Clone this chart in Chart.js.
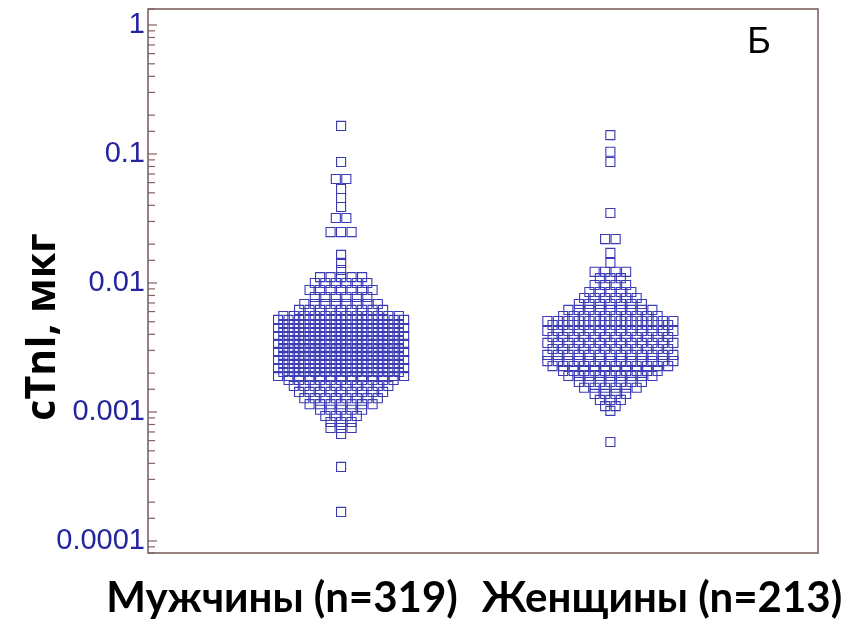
<!DOCTYPE html>
<html>
<head>
<meta charset="utf-8">
<script src="https://cdn.jsdelivr.net/npm/chart.js@4.4.1/dist/chart.umd.min.js"></script>
<style>
    html, body { margin: 0; padding: 0; background: #fff; }
    #wrap { width: 849px; height: 623px; }
</style>
</head>
<body>
<div id="wrap"><canvas id="dotChart" width="849" height="623"></canvas></div>
<script>
// Dữ liệu (mỗi mức = một hàng điểm, kèm số điểm trong hàng)
const groupLabels = ["Мужчины (n=319)", "Женщины (n=213)"];
const yTitle = "cTnI, мкг";
const panelLetter = "Б";
const yTickLabels = [1, 0.1, 0.01, 0.001, 0.0001];

const menLevels = [0.165, 0.0867, 0.064, 0.0535, 0.0456, 0.0388, 0.0319, 0.0248,
    0.0165, 0.0143, 0.0126,
    0.0111, 0.0100, 0.00883, 0.00779, 0.00687, 0.00618, 0.00555,
    0.00517, 0.00481, 0.00448, 0.00417, 0.00388, 0.00361, 0.00337, 0.00313,
    0.00292, 0.00272, 0.00253, 0.00236, 0.00219, 0.00204, 0.00190,
    0.00177, 0.00159, 0.00143, 0.00128, 0.00115, 0.00104, 0.000931, 0.000836,
    0.000752, 0.000675, 0.000375, 0.000168];
const menCounts = [1, 1, 2, 1, 1, 1, 2, 3,
    1, 1, 1,
    5, 6, 7, 6, 8, 9, 12,
    13, 12, 13, 12, 13, 12, 13, 12,
    13, 12, 13, 12, 13, 12, 13,
    11, 10, 9, 8, 7, 5, 4, 3,
    3, 1, 1, 1];

const womenLevels = [0.140, 0.104, 0.0867, 0.0349, 0.0219, 0.0171, 0.0143,
    0.0122, 0.0109, 0.00965, 0.00851, 0.00765, 0.00687, 0.00618, 0.00555, 0.00507,
    0.00472, 0.00425, 0.00381, 0.00343, 0.00308, 0.00277, 0.00248,
    0.00227, 0.00208, 0.00190, 0.00171, 0.00154, 0.00138, 0.00124, 0.00111,
    0.00102, 0.000585];
const womenCounts = [1, 1, 1, 1, 2, 1, 1,
    4, 3, 4, 5, 6, 7, 9, 10, 13,
    12, 13, 12, 13, 12, 13, 13,
    12, 10, 9, 7, 6, 4, 3, 2,
    1, 1];

// Bố cục
const STEP = 0.039;          // khoảng cách ngang giữa các điểm trong một hàng
const FRAME_COLOR = "#7f6262";
const DOT_COLOR = "#3b3bb5";

// Xếp các điểm trong mỗi hàng đối xứng quanh tâm nhóm
function buildSwarm(levels, counts, center) {
    const pts = [];
    levels.forEach((v, i) => {
        const n = counts[i];
        for (let j = 0; j < n; j++) {
            pts.push({ x: center + (j - (n - 1) / 2) * STEP, y: v });
        }
    });
    return pts;
}

// Khung, vạch chia và chữ
const decorPlugin = {
    id: "decor",
    afterDraw(chart) {
        const ctx = chart.ctx;
        const a = chart.chartArea;
        const ys = chart.scales.y;
        ctx.save();

        // vạch chia bên trong khung
        ctx.strokeStyle = FRAME_COLOR;
        ctx.lineWidth = 1.2;
        ys.ticks.forEach(t => {
            const p = ys.getPixelForValue(t.value);
            if (p < a.top || p > a.bottom) return;
            const major = Math.abs(Math.log10(t.value) - Math.round(Math.log10(t.value))) < 1e-6;
            ctx.beginPath();
            ctx.moveTo(a.left, p);
            ctx.lineTo(a.left + (major ? 9 : 7), p);
            ctx.stroke();
        });

        // khung
        ctx.lineWidth = 1.6;
        ctx.strokeRect(a.left, a.top, a.right - a.left, a.bottom - a.top);

        // tên trục y
        ctx.fillStyle = "#000";
        ctx.font = "bold 41px 'Open Sans'";
        ctx.textAlign = "center";
        ctx.textBaseline = "middle";
        ctx.translate(43, 327);
        ctx.rotate(-Math.PI / 2);
        ctx.fillText(yTitle, 0, 0);
        ctx.setTransform(1, 0, 0, 1, 0, 0);

        // nhãn nhóm
        ctx.font = "bold 42px Lato";
        ctx.fillText(groupLabels[0], 282, 598);
        ctx.fillText(groupLabels[1], 662, 598);

        // ký hiệu bảng
        ctx.font = "36px 'Liberation Sans'";
        ctx.fillText(panelLetter, 759, 43);
        ctx.restore();
    }
};

const dotStyle = {
    pointStyle: "rect",
    pointRadius: 6.4,
    pointHoverRadius: 6.4,
    borderColor: DOT_COLOR,
    backgroundColor: "rgba(255,255,255,0)",
    borderWidth: 1.1
};

new Chart(document.getElementById("dotChart"), {
    type: "scatter",
    data: {
        datasets: [
            Object.assign({ label: groupLabels[0], data: buildSwarm(menLevels, menCounts, 1) }, dotStyle),
            Object.assign({ label: groupLabels[1], data: buildSwarm(womenLevels, womenCounts, 2) }, dotStyle)
        ]
    },
    options: {
        responsive: false,
        animation: false,
        layout: { padding: { top: 9, right: 31, bottom: 70, left: 0 } },
        plugins: {
            legend: { display: false },
            tooltip: { enabled: false }
        },
        scales: {
            x: {
                type: "linear",
                min: 0.283,
                max: 2.771,
                display: false
            },
            y: {
                type: "logarithmic",
                min: 0.0000807,
                max: 1.33,
                afterFit: s => {
                    s.width = 148;
                    s.paddingTop = 0;
                    s.paddingBottom = 0;
                },
                grid: { display: false, drawTicks: false },
                border: { display: false },
                ticks: {
                    autoSkip: false,
                    padding: 3,
                    color: "#2424a0",
                    font: { family: "'Liberation Sans'", size: 29 },
                    callback: v => {
                        const hit = yTickLabels.find(t => Math.abs(t - v) / t < 1e-6);
                        return hit !== undefined ? String(hit) : "";
                    }
                }
            }
        }
    },
    plugins: [decorPlugin]
});
</script>
</body>
</html>
